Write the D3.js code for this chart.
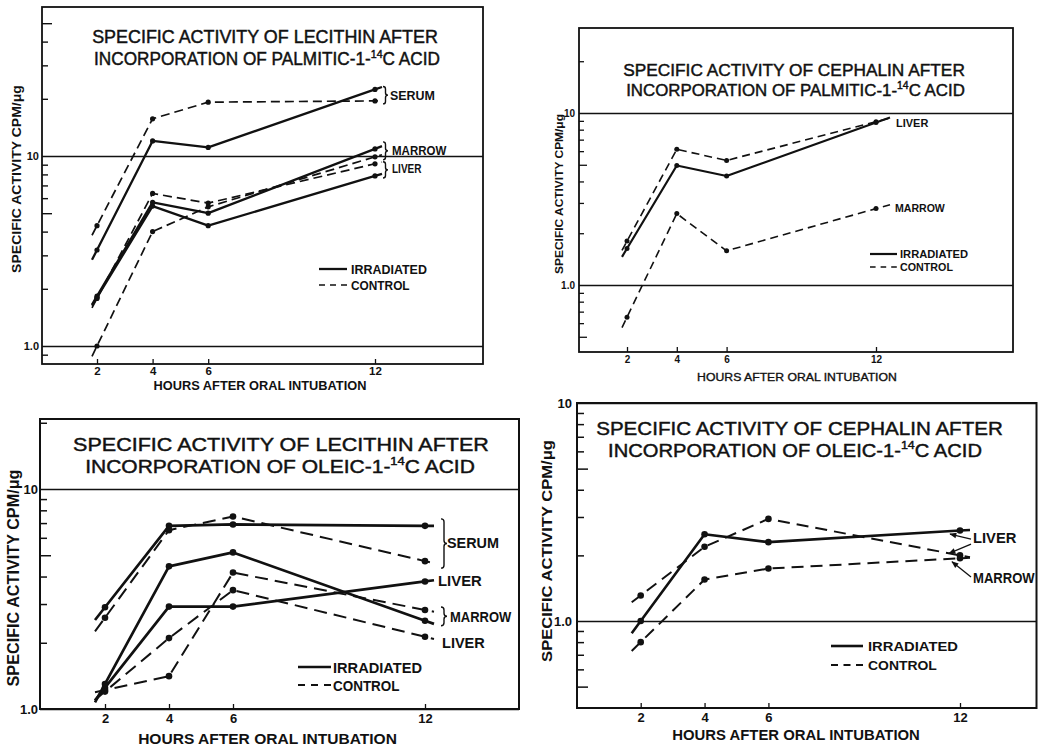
<!DOCTYPE html>
<html><head><meta charset="utf-8">
<script src="https://cdn.jsdelivr.net/npm/d3@7"></script>
<style>
body{margin:0;background:#fff}
svg{display:block}
text{font-family:"Liberation Sans",Arial,sans-serif;fill:#111}
</style>
</head><body>
<svg id="c" width="1038" height="746"></svg>
<script>
// ---------- data ----------
const hours = [2, 4, 6, 12];
const hourLabels = ["2", "4", "6", "12"];
const gridValues = [1, 10];
const gridLabels = ["1.0", "10"];
const yAxisTitle = "SPECIFIC ACTIVITY CPM/\u03BCg";
const xAxisTitle = "HOURS AFTER ORAL INTUBATION";
const legendLabels = ["IRRADIATED", "CONTROL"];

// Panel A: lecithin, palmitic-1-14C
const aSerumIrr  = [3.2, 12.0, 11.1, 22.4];
const aSerumCtl  = [4.3, 15.7, 19.2, 19.5];
const aMarrowIrr = [1.83, 5.7, 5.0, 10.9];
const aLiverIrr  = [1.8, 5.45, 4.3, 7.85];
const aMarrowCtl = [1.0, 4.0, 5.4, 9.9];
const aLiverCtl  = [1.78, 6.35, 5.65, 9.1];

// Panel B: cephalin, palmitic-1-14C
const bLiverIrr  = [1.63, 4.95, 4.3, 8.8];
const bLiverCtl  = [1.8, 6.15, 5.3, 8.9];
const bMarrowCtl = [0.65, 2.6, 1.58, 2.78];

// Panel C: lecithin, oleic-1-14C
const cSerumIrr  = [2.9, 6.8, 6.9, 6.8];
const cSerumCtl  = [2.6, 6.5, 7.5, 4.7];
const cLiverIrr  = [1.25, 2.92, 2.92, 3.8];
const cMarrowIrr = [1.3, 4.45, 5.15, 2.52];
const cMarrowCtl = [1.22, 1.41, 4.17, 2.82];
const cLiverCtl  = [1.2, 2.1, 3.47, 2.13];

// Panel D: cephalin, oleic-1-14C
const dLiverIrr  = [1.0, 2.5, 2.3, 2.6];
const dLiverCtl  = [1.31, 2.19, 2.94, 2.0];
const dMarrowCtl = [0.8, 1.55, 1.74, 1.94];

// ---------- drawing ----------
const INK = "#111";
const svg = d3.select("#c");
svg.append("rect").attr("width", 1038).attr("height", 746).attr("fill", "#fff");
svg.append("defs").append("marker")
  .attr("id", "arr").attr("viewBox", "0 0 10 10").attr("refX", 9).attr("refY", 5)
  .attr("markerWidth", 9).attr("markerHeight", 7).attr("markerUnits", "userSpaceOnUse")
  .attr("orient", "auto")
  .append("path").attr("d", "M0,1 L10,5 L0,9 Z").attr("fill", INK);

function fitText(parent, parts, o) {
  const g = parent.append("g");
  const t = g.append("text")
    .attr("text-anchor", o.anchor || "middle")
    .style("font-size", o.fs + "px")
    .style("font-weight", o.bold ? "bold" : "normal");
  if (o.stroke) t.attr("stroke", INK).attr("stroke-width", o.stroke);
  parts.forEach(p => {
    if (typeof p === "string") t.append("tspan").text(p);
    else {
      t.append("tspan").attr("dy", -o.fs * 0.4).style("font-size", (o.fs * 0.62) + "px").text(p.sup);
      t.append("tspan").attr("dy", o.fs * 0.4).text(p.after);
    }
  });
  const w = t.node().getBBox().width;
  const s = o.width ? o.width / w : 1;
  g.attr("transform", `translate(${o.x},${o.y})` + (o.rotate ? ` rotate(${o.rotate})` : "") + ` scale(${s},1)`);
  return g;
}

function brace(x0, y0, y1, w) {
  const ym = (y0 + y1) / 2;
  return `M${x0},${y0} Q${x0 + w},${y0} ${x0 + w},${y0 + w} L${x0 + w},${ym - w} Q${x0 + w},${ym} ${x0 + 2 * w},${ym} ` +
         `Q${x0 + w},${ym} ${x0 + w},${ym + w} L${x0 + w},${y1 - w} Q${x0 + w},${y1} ${x0},${y1}`;
}

function panel(c) {
  const x = d3.scaleLinear().domain([2, 12]).range(c.xr);
  const y = d3.scaleLog().domain([1, 10]).range(c.yr);
  const f = c.frame;
  const g = svg.append("g");

  // minor log ticks
  const minor = [], fives = [];
  [0.1, 1, 10, 100].forEach(d => {
    for (let k = 2; k <= 9; k++) {
      const v = k * d, py = y(v);
      if (py > f.t + 3 && py < f.b - 3) (k === 5 ? fives : minor).push(v);
    }
  });
  const styleTicks = s => { s.select(".domain").remove(); s.selectAll("line").attr("stroke", INK).attr("stroke-width", c.tickW); };
  g.append("g").attr("transform", `translate(${f.l},0)`)
    .call(d3.axisLeft(y).tickValues(minor).tickSize(-c.tick).tickFormat("")).call(styleTicks);
  g.append("g").attr("transform", `translate(${f.l},0)`)
    .call(d3.axisLeft(y).tickValues(fives).tickSize(-c.tick5).tickFormat("")).call(styleTicks);

  // grid lines at 1.0 and 10
  g.append("g").attr("transform", `translate(${f.l},0)`)
    .call(d3.axisLeft(y).tickValues(gridValues).tickSize(-(f.r - f.l)).tickFormat(""))
    .call(s => { s.select(".domain").remove(); s.selectAll("line").attr("stroke", INK).attr("stroke-width", c.gridW); });

  // grid labels
  g.append("g").attr("transform", `translate(${f.l},0)`)
    .call(d3.axisLeft(y).tickValues(gridValues).tickFormat((d, i) => gridLabels[i]).tickSize(0).tickPadding(c.ylPad))
    .call(s => { s.select(".domain").remove();
      s.selectAll("text").style("font-size", c.ylFs + "px").style("font-weight", "bold").attr("fill", INK)
        .style("font-family", '"Liberation Sans",Arial,sans-serif'); });

  // x ticks
  g.append("g").attr("transform", `translate(0,${f.b})`)
    .call(d3.axisBottom(x).tickValues(hours).tickFormat((d, i) => hourLabels[i]).tickSize(-c.xtick).tickPadding(c.xtPad))
    .call(s => { s.select(".domain").remove();
      s.selectAll("line").attr("stroke", INK).attr("stroke-width", 1.3);
      s.selectAll("text").style("font-size", c.xtFs + "px").style("font-weight", "bold").attr("fill", INK)
        .style("font-family", '"Liberation Sans",Arial,sans-serif'); });

  // frame
  g.append("rect").attr("x", f.l).attr("y", f.t).attr("width", f.r - f.l).attr("height", f.b - f.t)
    .attr("fill", "none").attr("stroke", INK).attr("stroke-width", c.frameW);

  // titles
  c.titles.forEach(t => fitText(g, t.parts, { x: t.cx, y: t.y, width: t.w, fs: t.fs, stroke: 0.45 }));
  fitText(g, [yAxisTitle], { x: c.yt.cx, y: c.yt.cy, width: c.yt.len, fs: c.yt.fs, bold: true, rotate: -90 });
  fitText(g, [xAxisTitle], { x: c.xt.cx, y: c.xt.y, width: c.xt.w, fs: c.xt.fs, bold: c.xt.bold, stroke: c.xt.bold ? 0 : 0.35 });

  // series
  const line = d3.line();
  c.series.forEach(s => {
    const pts = hours.map((h, i) => [x(h), y(s.v[i])]);
    const p0 = pts[0], p1 = pts[1], pn = pts[pts.length - 1], pm = pts[pts.length - 2];
    const st = [p0[0] - c.tailS, p0[1] - (p1[1] - p0[1]) / (p1[0] - p0[0]) * c.tailS];
    const en = [pn[0] + c.tailE, pn[1] + (pn[1] - pm[1]) / (pn[0] - pm[0]) * c.tailE];
    g.append("path").attr("d", line([st, ...pts, en])).attr("fill", "none").attr("stroke", INK)
      .attr("stroke-width", s.dash ? c.dashW : c.solidW)
      .attr("stroke-dasharray", s.dash ? c.dashArr : null)
      .attr("stroke-linejoin", "round");
    g.selectAll(null).data(pts).join("circle").attr("cx", d => d[0]).attr("cy", d => d[1]).attr("r", c.r).attr("fill", INK);
  });

  // legend
  legendLabels.forEach((lab, i) => {
    const ly = c.leg.y[i];
    g.append("line").attr("x1", c.leg.x0).attr("x2", c.leg.x1).attr("y1", ly).attr("y2", ly)
      .attr("stroke", INK).attr("stroke-width", i ? c.dashW : c.solidW).attr("stroke-dasharray", i ? c.legDash : null);
    fitText(g, [lab], { x: c.leg.tx, y: ly + c.leg.dy, width: c.leg.w[i], fs: c.leg.fs, bold: true, anchor: "start" });
  });

  // series labels
  const x12 = x(12);
  c.labels.forEach(L => {
    const ys = L.ref.map(v => y(v[3]));
    const mid = d3.mean(ys);
    if (L.brace) {
      const y0 = d3.min(ys) - L.pad + (L.bshift || 0), y1 = d3.max(ys) + L.pad + (L.bshift || 0);
      g.append("path").attr("d", brace(x12 + L.bx, y0, y1, c.bw)).attr("fill", "none")
        .attr("stroke", INK).attr("stroke-width", 1.4);
    }
    fitText(g, [L.text], { x: x12 + L.dx, y: mid + L.dy, width: L.w, fs: c.labFs, bold: true, anchor: "start" });
    (L.arrows || []).forEach(a => {
      g.append("line").attr("x1", x12 + L.dx - 2).attr("y1", mid + L.dy + a.sy)
        .attr("x2", x12 + a.tx).attr("y2", y(a.ref[3]) + a.ty)
        .attr("stroke", INK).attr("stroke-width", 1.3).attr("marker-end", "url(#arr)");
    });
  });
}

// Panel A
panel({
  frame: { l: 42, t: 7, r: 483, b: 364 }, xr: [97, 375], yr: [346, 156],
  frameW: 1.8, gridW: 1.3, tickW: 1.4, tick: 6, tick5: 10, xtick: 5,
  ylPad: 3, ylFs: 11, xtPad: 3, xtFs: 11.5,
  solidW: 2.3, dashW: 1.7, dashArr: "9,5", legDash: "6,5", r: 2.6, tailS: 5, tailE: 7,
  titles: [
    { parts: ["SPECIFIC ACTIVITY OF LECITHIN AFTER"], cx: 265, y: 43, w: 346, fs: 18 },
    { parts: ["INCORPORATION OF PALMITIC-1-", { sup: "14", after: "C ACID" }], cx: 267, y: 65, w: 346, fs: 18 }
  ],
  yt: { cx: 21, cy: 179, len: 188, fs: 13 },
  xt: { cx: 260, y: 390, w: 213, fs: 12, bold: true },
  series: [
    { v: aSerumIrr }, { v: aSerumCtl, dash: 1 }, { v: aMarrowIrr }, { v: aLiverIrr },
    { v: aMarrowCtl, dash: 1 }, { v: aLiverCtl, dash: 1 }
  ],
  leg: { x0: 319, x1: 347, y: [269, 285], tx: 351, dy: 5, w: [76, 59], fs: 12.5 },
  labFs: 13, bw: 2.5,
  labels: [
    { text: "SERUM", ref: [aSerumIrr, aSerumCtl], brace: 1, bx: 8, pad: 3, dx: 15, dy: 4.5, w: 45 },
    { text: "MARROW", ref: [aMarrowIrr, aMarrowCtl], brace: 1, bx: 8, pad: 5, bshift: -2, dx: 17, dy: 2, w: 55 },
    { text: "LIVER", ref: [aLiverIrr, aLiverCtl], brace: 1, bx: 8, pad: 2, dx: 17, dy: 3, w: 30 }
  ]
});

// Panel B
panel({
  frame: { l: 579, t: 28, r: 1013, b: 352 }, xr: [627, 876], yr: [285, 113],
  frameW: 1.8, gridW: 1.3, tickW: 1.3, tick: 5, tick5: 8, xtick: 5,
  ylPad: 4, ylFs: 10, xtPad: 4, xtFs: 10,
  solidW: 2.2, dashW: 1.6, dashArr: "8,5", legDash: "5.6,5", r: 2.5, tailS: 5, tailE: 14,
  titles: [
    { parts: ["SPECIFIC ACTIVITY OF CEPHALIN AFTER"], cx: 794, y: 76, w: 342, fs: 17 },
    { parts: ["INCORPORATION OF PALMITIC-1-", { sup: "14", after: "C ACID" }], cx: 795.5, y: 96, w: 339, fs: 17 }
  ],
  yt: { cx: 563, cy: 194, len: 160, fs: 11.5 },
  xt: { cx: 797, y: 381, w: 200, fs: 11, bold: false },
  series: [ { v: bLiverIrr }, { v: bLiverCtl, dash: 1 }, { v: bMarrowCtl, dash: 1 } ],
  leg: { x0: 870, x1: 897, y: [254, 267], tx: 900, dy: 4.2, w: [68, 53], fs: 11.5 },
  labFs: 11.5, bw: 2.5,
  labels: [
    { text: "LIVER", ref: [bLiverIrr], dx: 20, dy: 4.3, w: 33 },
    { text: "MARROW", ref: [bMarrowCtl], dx: 19, dy: 3.8, w: 50 }
  ]
});

// Panel C
panel({
  frame: { l: 40, t: 419, r: 519, b: 709 }, xr: [105, 425], yr: [709, 489],
  frameW: 2, gridW: 1.4, tickW: 1.5, tick: 7, tick5: 11, xtick: 5,
  ylPad: 2, ylFs: 13, xtPad: 5, xtFs: 13,
  solidW: 2.7, dashW: 2, dashArr: "13,7", legDash: "7,6", r: 3.3, tailS: 10, tailE: 9,
  titles: [
    { parts: ["SPECIFIC ACTIVITY OF LECITHIN AFTER"], cx: 281, y: 451, w: 416, fs: 19 },
    { parts: ["INCORPORATION OF OLEIC-1-", { sup: "14", after: "C ACID" }], cx: 280, y: 473, w: 390, fs: 19 }
  ],
  yt: { cx: 19, cy: 578, len: 217, fs: 16 },
  xt: { cx: 267.5, y: 744, w: 259, fs: 15, bold: true },
  series: [
    { v: cSerumIrr }, { v: cSerumCtl, dash: 1 }, { v: cLiverIrr }, { v: cMarrowIrr },
    { v: cMarrowCtl, dash: 1 }, { v: cLiverCtl, dash: 1 }
  ],
  leg: { x0: 298, x1: 331, y: [667, 685], tx: 333, dy: 5.5, w: [89, 67], fs: 14 },
  labFs: 15, bw: 3,
  labels: [
    { text: "SERUM", ref: [cSerumIrr, cSerumCtl], brace: 1, bx: 16, pad: 7, dx: 22, dy: 4.5, w: 52 },
    { text: "LIVER", ref: [cLiverIrr], dx: 13, dy: 4.5, w: 44 },
    { text: "MARROW", ref: [cMarrowCtl, cMarrowIrr], brace: 1, bx: 16, pad: 4, bshift: 1, dx: 25, dy: 6.5, w: 62 },
    { text: "LIVER", ref: [cLiverCtl], dx: 17, dy: 11, w: 43 }
  ]
});

// Panel D
panel({
  frame: { l: 577, t: 403, r: 1036.5, b: 708 }, xr: [640.7, 960], yr: [621, 403],
  frameW: 2, gridW: 1.4, tickW: 1.5, tick: 7, tick5: 11, xtick: 5,
  ylPad: 5, ylFs: 13, xtPad: 5, xtFs: 13,
  solidW: 2.6, dashW: 2, dashArr: "12,7", legDash: "7,5.5", r: 3.3, tailS: 9, tailE: 10,
  titles: [
    { parts: ["SPECIFIC ACTIVITY OF CEPHALIN AFTER"], cx: 799.5, y: 435, w: 407, fs: 19 },
    { parts: ["INCORPORATION OF OLEIC-1-", { sup: "14", after: "C ACID" }], cx: 795, y: 457, w: 374, fs: 19 }
  ],
  yt: { cx: 552, cy: 551, len: 222, fs: 15 },
  xt: { cx: 796, y: 740, w: 248, fs: 14, bold: true },
  series: [ { v: dLiverIrr }, { v: dLiverCtl, dash: 1 }, { v: dMarrowCtl, dash: 1 } ],
  leg: { x0: 831, x1: 863, y: [646, 665], tx: 868, dy: 5, w: [90, 69], fs: 13 },
  labFs: 14.5, bw: 3,
  labels: [
    { text: "LIVER", ref: [dLiverIrr], dx: 13, dy: 12.5, w: 44,
      arrows: [ { ref: dLiverIrr, sy: -4, tx: -10, ty: 3.5 }, { ref: dLiverCtl, sy: 1, tx: -11, ty: -2 } ] },
    { text: "MARROW", ref: [dMarrowCtl], dx: 13, dy: 24.7, w: 62,
      arrows: [ { ref: dMarrowCtl, sy: -6, tx: -8, ty: 3.5 } ] }
  ]
});
</script>
</body></html>
